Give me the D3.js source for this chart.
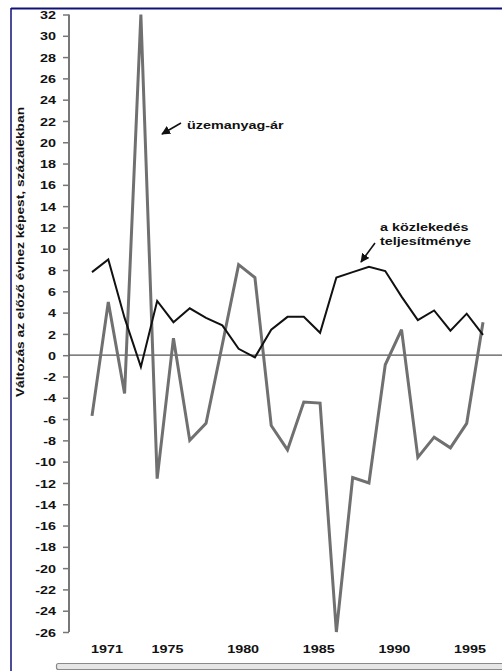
<!DOCTYPE html>
<html>
<head>
<meta charset="utf-8">
<script src="https://cdn.jsdelivr.net/npm/d3@7"></script>
<style>
  html, body { margin: 0; padding: 0; background: #fff; }
  svg { display: block; }
  text { font-family: "Liberation Sans", Arial, sans-serif; font-weight: bold; fill: #111; }
</style>
</head>
<body>
<svg id="chart" width="502" height="671"></svg>
<script>
// ---- data ----
const years = [1971, 1972, 1973, 1974, 1975, 1976, 1977, 1978, 1979, 1980,
               1981, 1982, 1983, 1984, 1985, 1986, 1987, 1988, 1989, 1990,
               1991, 1992, 1993, 1994, 1995];
const fuelPrice = [-5.7, 5.0, -3.6, 32, -11.6, 1.6, -8.0, -6.4, 1.0, 8.5,
                   7.3, -6.6, -8.9, -4.4, -4.5, -26, -11.5, -12.0, -0.9, 2.4,
                   -9.6, -7.7, -8.7, -6.4, 3.1];
const transport = [7.8, 9.0, 3.5, -1.1, 5.1, 3.1, 4.4, 3.5, 2.8, 0.6,
                   -0.2, 2.4, 3.6, 3.6, 2.1, 7.3, 7.8, 8.3, 7.9, 5.5,
                   3.3, 4.2, 2.3, 3.9, 1.9];
const xTickLabels = [1971, 1975, 1980, 1985, 1990, 1995];
const yTicks = [-26, -24, -22, -20, -18, -16, -14, -12, -10, -8, -6, -4, -2, 0,
                2, 4, 6, 8, 10, 12, 14, 16, 18, 20, 22, 24, 26, 28, 30, 32];
const yTitle = "Változás az előző évhez képest, százalékban";
const fuelLabel = "üzemanyag-ár";
const transportLabel = ["a közlekedés", "teljesítménye"];

// ---- scales ----
const svg = d3.select("#chart");
const x = d3.scaleLinear().domain([1971, 1995]).range([92, 483]);
const xLabel = d3.scaleLinear().domain([1971, 1995]).range([107, 470]);
const y = d3.scaleLinear().domain([-26, 32]).range([632, 14.5]);
const axisX = 69;
const SX = 1.25; // horizontal stretch of the lettering

function stretched(sel, tx, ty, rot) {
  sel.attr("x", 0).attr("y", 0)
     .attr("transform", `translate(${tx},${ty})${rot ? ` rotate(${rot})` : ""} scale(${SX},1)`);
}

// ---- frame ----
svg.append("line").attr("x1", 11).attr("x2", 502).attr("y1", 8.5).attr("y2", 8.5)
  .attr("stroke", "#10107a").attr("stroke-width", 2);
svg.append("line").attr("x1", 11).attr("x2", 11).attr("y1", 8).attr("y2", 671)
  .attr("stroke", "#10107a").attr("stroke-width", 1.5);
svg.append("rect").attr("x", 56.5).attr("y", 663.5).attr("width", 460).attr("height", 6)
  .attr("rx", 2).attr("fill", "#e6e6e6").attr("stroke", "#8a8a8a").attr("stroke-width", 1.2);

// ---- y axis ----
const yAxis = d3.axisLeft(y).tickValues(yTicks).tickSize(6).tickPadding(7)
  .tickFormat(d => String(d));
const gy = svg.append("g").attr("transform", `translate(${axisX},0)`).call(yAxis);
gy.select(".domain").attr("stroke", "#777").attr("stroke-width", 2)
  .attr("d", `M-0,${y(32)}V${y(-26)}`);
gy.selectAll(".tick line").attr("stroke", "#777").attr("stroke-width", 1.5);
gy.selectAll(".tick text")
  .attr("font-size", 11.5).attr("font-weight", "bold").attr("fill", "#111")
  .attr("font-family", "'Liberation Sans', Arial, sans-serif")
  .attr("dy", "0.36em")
  .each(function () { stretched(d3.select(this), -13, 0); });

const title = svg.append("text")
  .attr("text-anchor", "middle")
  .attr("font-size", 11)
  .text(yTitle);
stretched(title, 24, 252, -90);

// ---- zero line ----
svg.append("line").attr("x1", axisX).attr("x2", 502)
  .attr("y1", y(0)).attr("y2", y(0))
  .attr("stroke", "#555").attr("stroke-width", 1.2);

// ---- x tick labels ----
svg.append("g").selectAll("text").data(xTickLabels).join("text")
  .attr("text-anchor", "middle").attr("font-size", 11.5)
  .text(d => d)
  .each(function (d) { stretched(d3.select(this), xLabel(d), 653); });

// ---- lines ----
const line = d3.line().x((d, i) => x(years[i])).y(d => y(d)).curve(d3.curveLinear);
svg.append("path").datum(fuelPrice).attr("d", line)
  .attr("fill", "none").attr("stroke", "#707070").attr("stroke-width", 3)
  .attr("stroke-linejoin", "miter").attr("stroke-miterlimit", 3);
svg.append("path").datum(transport).attr("d", line)
  .attr("fill", "none").attr("stroke", "#111").attr("stroke-width", 2)
  .attr("stroke-linejoin", "miter");

// ---- annotations ----
svg.append("defs").append("marker")
  .attr("id", "arrow").attr("viewBox", "0 0 10 10").attr("refX", 9).attr("refY", 5)
  .attr("markerWidth", 9).attr("markerHeight", 9).attr("markerUnits", "userSpaceOnUse")
  .attr("orient", "auto")
  .append("path").attr("d", "M0,0 L10,5 L0,10 Z").attr("fill", "#111");

svg.append("line").attr("x1", 181).attr("y1", 123).attr("x2", 162).attr("y2", 134)
  .attr("stroke", "#111").attr("stroke-width", 1.6).attr("marker-end", "url(#arrow)");
stretched(svg.append("text").attr("font-size", 11.5).text(fuelLabel), 187, 129);

svg.append("line").attr("x1", 375).attr("y1", 243).attr("x2", 361).attr("y2", 262)
  .attr("stroke", "#111").attr("stroke-width", 1.6).attr("marker-end", "url(#arrow)");
stretched(svg.append("text").attr("font-size", 11.5).text(transportLabel[0]), 380, 231);
stretched(svg.append("text").attr("font-size", 11.5).text(transportLabel[1]), 380, 245);
</script>
</body>
</html>
